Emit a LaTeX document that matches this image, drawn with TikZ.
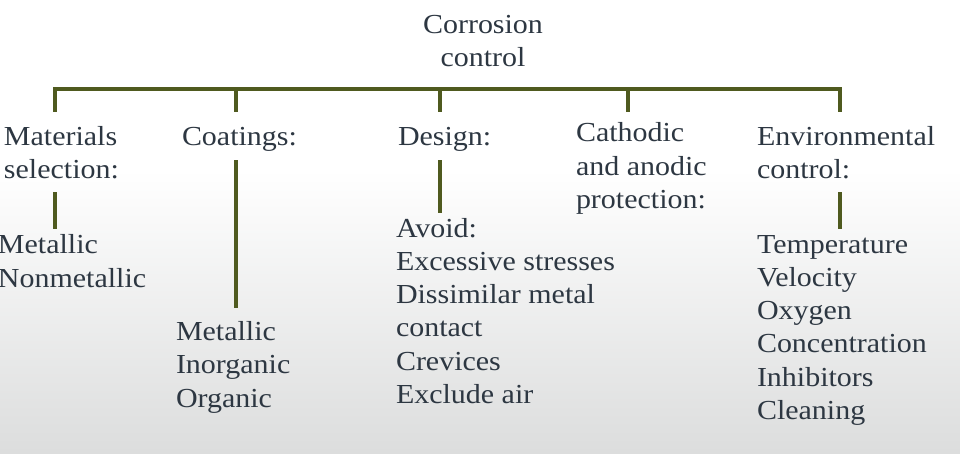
\documentclass[tikz,border=0pt]{standalone}
\usepackage{fontspec}
\setmainfont{Liberation Serif}[FakeStretch=1.09]
\definecolor{olive}{RGB}{79,90,31}
\definecolor{ink}{RGB}{45,55,66}
\definecolor{floor}{RGB}{220,221,221}
\begin{document}
\begin{tikzpicture}[x=1pt,y=-1pt,
  every node/.style={inner sep=0pt,outer sep=0pt,text=ink,font=\fontsize{27.5}{33.3}\selectfont},
  % nodes are placed by the baseline of their last line
  label/.style={anchor=base west,align=left},
  link/.style={draw=olive,line width=3.8pt}]
  % page and soft grey floor
  \useasboundingbox (0,0) rectangle (960,453);
  \fill[white] (0,0) rectangle (960,170);
  \shade[top color=white,bottom color=floor] (0,169.5) rectangle (960,453);

  % root
  \node[anchor=base,align=center] (root) at (483,66.5) {Corrosion\\control};

  % categories
  \node[label] (mat)  at (4,178.3)   {Materials\\selection:};
  \node[label] (coat) at (182,145)   {Coatings:};
  \node[label] (des)  at (398,145)   {Design:};
  \node[label] (cath) at (576,208.5) {Cathodic\\and anodic\\protection:};
  \node[label] (env)  at (757,178.3) {Environmental\\control:};

  % leaves
  \node[label] (matl)  at (-2,287)    {Metallic\\Nonmetallic};
  \node[label] (coatl) at (176,407)   {Metallic\\Inorganic\\Organic};
  \node[label] (desl)  at (396,403.5) {Avoid:\\Excessive stresses\\Dissimilar metal\\contact\\Crevices\\Exclude air};
  \node[label] (envl)  at (757,419.5) {Temperature\\Velocity\\Oxygen\\Concentration\\Inhibitors\\Cleaning};

  % bus bar and drops
  \coordinate (bL) at (55,89);
  \coordinate (bR) at (840,89);
  \coordinate (dMat)  at (55,111.5);
  \coordinate (dCoat) at (236,111.5);
  \coordinate (dDes)  at (440,111.5);
  \coordinate (dCath) at (628,111.5);
  \coordinate (dEnv)  at (840,111.5);
  \draw[link,line join=miter] (dMat) -- (bL) -- (bR) -- (dEnv);
  \draw[link] (dCoat) -- (dCoat |- bL);
  \draw[link] (dDes)  -- (dDes |- bL);
  \draw[link] (dCath) -- (dCath |- bL);

  % category to leaf connectors
  \coordinate (mTop) at (55,192);   \coordinate (mBot) at (55,229);
  \coordinate (cTop) at (236,160);  \coordinate (cBot) at (236,308);
  \coordinate (dTop) at (440,160);  \coordinate (dBot) at (440,213);
  \coordinate (eTop) at (840,192);  \coordinate (eBot) at (840,229);
  \draw[link] (mTop) -- (mBot);
  \draw[link] (cTop) -- (cBot);
  \draw[link] (dTop) -- (dBot);
  \draw[link] (eTop) -- (eBot);
\end{tikzpicture}
\end{document}
